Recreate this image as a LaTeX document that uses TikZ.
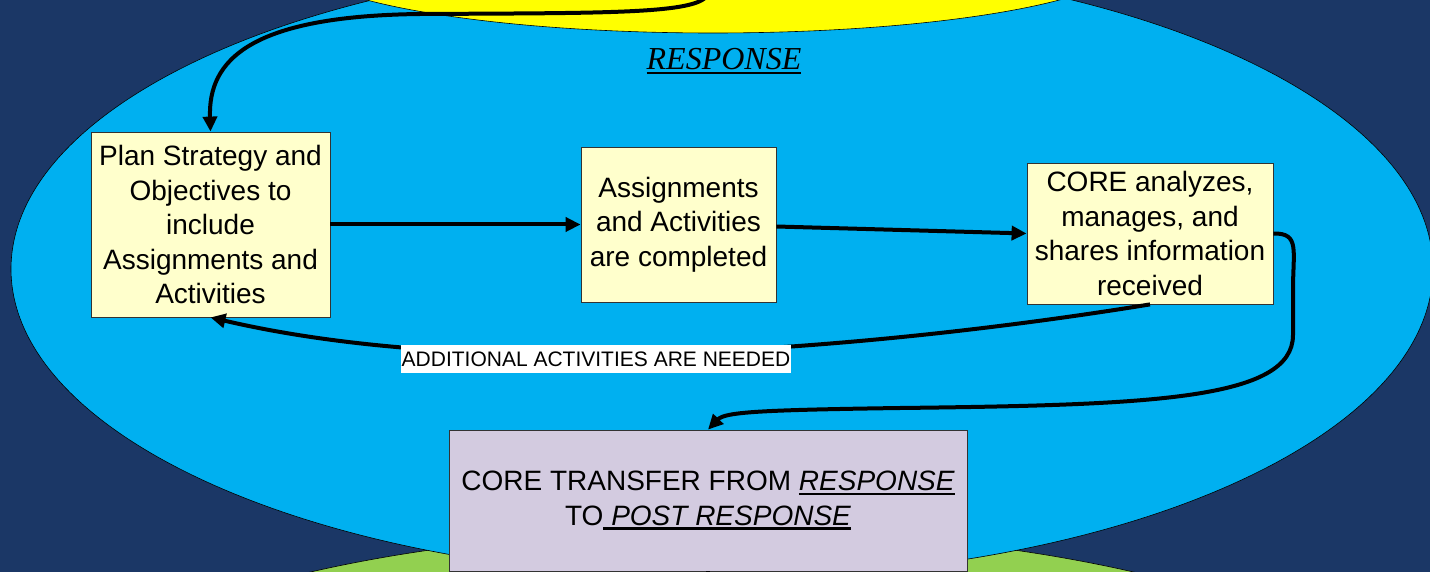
\documentclass[tikz,border=0pt]{standalone}
\usepackage{fontspec}
\setmainfont{Liberation Sans}
\newfontfamily\serifit{Liberation Serif}
\newcommand{\ulx}[1]{\setbox0\hbox{#1}\rlap{\rule[-4.5pt]{\wd0}{2.6pt}}\box0}
\usetikzlibrary{arrows.meta}
\definecolor{navy}{HTML}{1B3766}
\definecolor{skyb}{HTML}{00B0F0}
\definecolor{yel}{HTML}{FFFF00}
\definecolor{grn}{HTML}{92D050}
\definecolor{boxy}{HTML}{FFFFCC}
\definecolor{lav}{HTML}{D3CBE0}
\begin{document}
\begin{tikzpicture}[x=1pt,y=-1pt,
  box/.style={draw=black!80, line width=0.8pt, fill=boxy, align=center, inner sep=0pt, font=\fontsize{28}{34.5}\selectfont},
  flow/.style={line width=4pt, -{Triangle[length=15pt,width=14pt]}},
  blob/.style={draw=black, line width=0.6pt}
  ]
\useasboundingbox (0,0) rectangle (1430,572);
\clip (0,0) rectangle (1430,572);
\fill[navy] (0,0) rectangle (1430,572);
\filldraw[blob, fill=grn] (722,750) ellipse [x radius=700pt, y radius=220pt];
\filldraw[blob, fill=skyb] (722,269) ellipse [x radius=711pt, y radius=309pt];
\filldraw[blob, fill=yel] (713,-43) ellipse [x radius=420pt, y radius=76pt];

\node[font=\serifit\itshape\fontsize{32}{38}\selectfont, anchor=base, inner sep=0pt] (title) at (724,70) {\ulx{RESPONSE}};

\node[box, minimum width=239pt, minimum height=185pt] (plan) at (210.5,224.5) {Plan Strategy and\\Objectives to\\include\\Assignments and\\Activities};
\node[box, minimum width=195pt, minimum height=155pt] (assign) at (678.5,224.5) {Assignments\\and Activities\\are completed};
\node[box, minimum width=246pt, minimum height=141pt] (core) at (1150,233.5) {CORE analyzes,\\manages, and\\shares information\\received};
\node[box, fill=lav, minimum width=518pt, minimum height=141pt] (transfer) at (708,500.5) {CORE TRANSFER FROM \ulx{\itshape RESPONSE}\\TO\ulx{\itshape\ POST RESPONSE}};

\coordinate (topstart) at (706,-3);
\coordinate (downend) at (708,620);

\draw[flow] (plan.east) -- (assign.west);
\draw[flow] ([yshift=-2pt]assign.east) -- (core.west);
\draw[flow] (topstart) .. controls (690,14) and (600,13) .. (420,14) .. controls (250,16) and (208,60) .. (plan.north);
\draw[flow] (core.south) .. controls (900,345) and (500,385) .. (plan.south);
\draw[flow] (core.east) .. controls (1300,233) and (1293,250) .. (1293,290) -- (1293,335) .. controls (1293,400) and (1150,405) .. (900,408) .. controls (760,410) and (725,412) .. (transfer.north);
\draw[line width=4pt] (transfer.south) -- (downend);

\node[fill=white, inner xsep=1pt, inner ysep=0pt, minimum height=28pt, font=\fontsize{21}{25}\selectfont] (lbl) at (596,359) {ADDITIONAL ACTIVITIES ARE NEEDED};
\end{tikzpicture}
\end{document}
